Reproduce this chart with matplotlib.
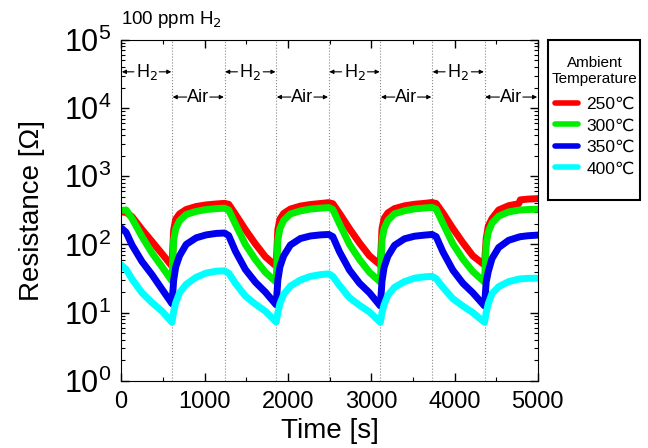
import matplotlib
matplotlib.use('Agg')
import matplotlib.pyplot as plt
from matplotlib.patches import Rectangle
import numpy as np

plt.rcParams['font.family'] = ['Liberation Sans', 'DejaVu Sans']

# time axis [s], shared by all series (H2 on / air cycles)
time = [0, 60, 130, 250, 370, 490, 610,
        630, 655, 700, 780, 900, 1020, 1140, 1240,
        1290, 1370, 1490, 1610, 1730, 1860,
        1880, 1905, 1950, 2030, 2150, 2270, 2390, 2490,
        2540, 2620, 2740, 2860, 2980, 3110,
        3130, 3155, 3200, 3280, 3400, 3520, 3640, 3730,
        3780, 3860, 3980, 4100, 4220, 4360,
        4380, 4405, 4450, 4530, 4650, 4770, 4790, 4880, 5000]

r_250 = [300, 295, 255, 165, 110, 73, 48,
         163, 235, 280, 325, 360, 380, 392, 400,
         388, 278, 165, 102, 66, 48,
         165, 235, 285, 330, 365, 385, 398, 410,
         395, 285, 170, 105, 68, 50,
         170, 240, 290, 335, 368, 388, 400, 412,
         398, 290, 172, 106, 68, 50,
         120, 185, 240, 320, 370, 395, 450, 462, 470]

r_300 = [315, 320, 240, 130, 75, 47, 29,
         117, 170, 222, 275, 305, 325, 335, 340,
         320, 200, 100, 60, 39, 28,
         117, 170, 225, 280, 310, 330, 340, 348,
         325, 200, 100, 60, 39, 28,
         117, 170, 225, 282, 312, 332, 342, 350,
         328, 205, 102, 61, 40, 28,
         100, 150, 205, 260, 300, 318, 320, 325, 328]

r_350 = [175, 150, 98, 56, 36, 22, 13.5,
         30, 47, 68, 100, 125, 138, 145, 147,
         135, 80, 43, 28, 20, 13,
         30, 47, 68, 98, 122, 133, 138, 140,
         130, 78, 42, 27, 19.5, 12.5,
         29, 46, 67, 97, 121, 132, 137, 140,
         130, 78, 42, 27, 19.5, 12.5,
         28, 40, 62, 90, 115, 128, 130, 134, 137]

r_400 = [50, 43, 31, 19.5, 14, 10.5, 7.2,
         10.5, 14, 19.5, 26, 33, 38, 40.5, 41,
         38, 27, 17.5, 13.3, 10.5, 7.3,
         10, 13.5, 18.5, 24.5, 30, 34, 36, 37,
         34, 25, 16.5, 12.8, 10.2, 7.2,
         10, 13, 18, 23.5, 28.5, 32, 33.5, 34,
         31.5, 23.5, 16, 12.5, 10, 7.2,
         10, 13.5, 19, 24, 28.5, 31, 31.2, 31.8, 32]

labels = ['250\u2103', '300\u2103', '350\u2103', '400\u2103']
colors = ['#ff0000', '#00ee00', '#0000ee', '#00ffff']

# gas switching times and phase labels
switch_times = [0, 610, 1240, 1860, 2490, 3110, 3730, 4360, 5000]
phases = ['H$_2$', 'Air', 'H$_2$', 'Air', 'H$_2$', 'Air', 'H$_2$', 'Air']

fig = plt.figure(figsize=(6.48, 4.48), dpi=100)
ax = fig.add_axes([0.187, 0.150, 0.643, 0.761])

for vals, lab, c in zip([r_250, r_300, r_350, r_400], labels, colors):
    ax.plot(time, vals, color=c, lw=5, label=lab, solid_capstyle='round', solid_joinstyle='round')

for t in switch_times[1:-1]:
    ax.axvline(t, color='#888888', ls=':', lw=0.8, zorder=0)

for i, name in enumerate(phases):
    t0, t1 = switch_times[i], switch_times[i + 1]
    y = 3.4e4 if name != 'Air' else 1.45e4
    mid = (t0 + t1) / 2
    w = t1 - t0
    ax.text(mid, y, name, ha='center', va='center', fontsize=13)
    gap = 0.25 * w if name != 'Air' else 0.28 * w
    arr = dict(arrowstyle='-|>', color='black', lw=0.8, mutation_scale=6, shrinkA=0, shrinkB=0)
    ax.annotate('', xy=(t0 + 8, y), xytext=(t0 + gap, y), arrowprops=arr)
    ax.annotate('', xy=(t1 - 8, y), xytext=(t1 - gap, y), arrowprops=arr)

ax.set_yscale('log')
ax.set_xlim(0, 5000)
ax.set_ylim(1, 1e5)
ax.set_xticks([0, 1000, 2000, 3000, 4000, 5000])
ax.xaxis.set_minor_locator(matplotlib.ticker.MultipleLocator(500))
ax.yaxis.set_major_locator(matplotlib.ticker.LogLocator(base=10, numticks=10))
ax.yaxis.set_minor_locator(matplotlib.ticker.LogLocator(base=10, subs=np.arange(2, 10), numticks=20))
ax.yaxis.set_minor_formatter(matplotlib.ticker.NullFormatter())
ax.tick_params(which='both', direction='in', top=True, right=True)
ax.tick_params(which='major', length=6, width=1)
ax.tick_params(which='minor', length=3, width=0.8)
ax.tick_params(axis='x', labelsize=17, pad=7)
ax.tick_params(axis='y', labelsize=22, pad=7)

ax.set_xlabel('Time [s]', fontsize=20, labelpad=4)
ax.set_ylabel('Resistance [\u03a9]', fontsize=20, labelpad=14)
ax.text(0.0, 1.03, '100 ppm H$_2$', transform=ax.transAxes, fontsize=13.5, ha='left', va='bottom')

# legend box drawn separately (it has extra empty room at the bottom)
fig.patches.append(Rectangle((548 / 648, 1 - 200 / 448), 92 / 648, 160 / 448,
                             transform=fig.transFigure, fill=False, ec='black', lw=1.5))
leg = fig.legend(loc='upper center', bbox_to_anchor=(595 / 648, 1 - 40 / 448),
                 title='Ambient\nTemperature',
                 fontsize=12.5, title_fontsize=11, frameon=False,
                 handlelength=1.3, borderpad=0.4, labelspacing=0.36, handletextpad=0.5)
leg.get_title().set_multialignment('center')
leg._legend_box.sep = 8
for line in leg.get_lines():
    line.set_linewidth(4)

fig.savefig('out.png', dpi=100)
